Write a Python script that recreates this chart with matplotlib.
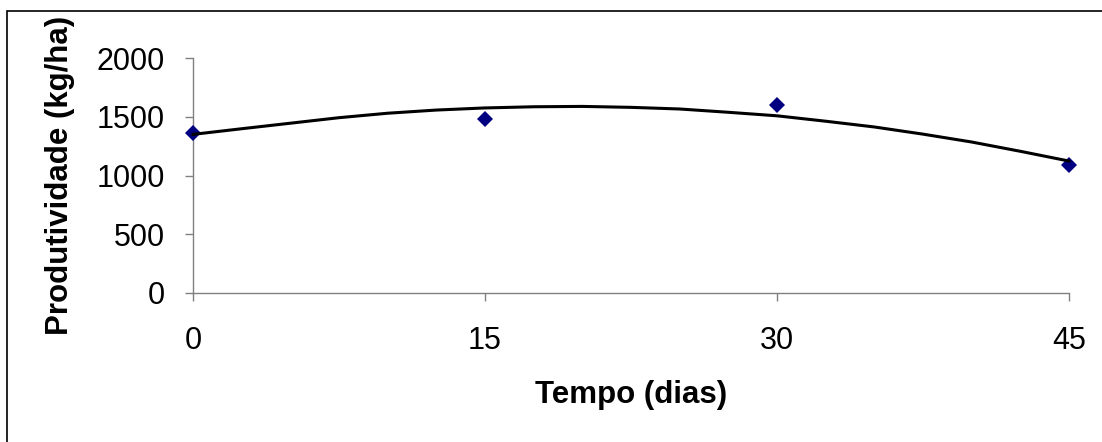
import matplotlib
matplotlib.use('Agg')
import matplotlib.pyplot as plt
from matplotlib.patches import Rectangle

# observed values
dias = [0, 15, 30, 45]
produtividade = [1364, 1481, 1600, 1089]

# trend line
tend_dias = [0, 2.5, 5, 7.5, 10, 12.5, 15, 17.5, 20, 22.5,
             25, 27.5, 30, 32.5, 35, 37.5, 40, 42.5, 45]
tend_valores = [1350, 1398, 1445, 1492, 1530, 1557, 1575, 1585, 1588, 1580,
                1566, 1538, 1508, 1462, 1413, 1352, 1285, 1206, 1123]

x_ticks = [0, 15, 30, 45]
y_ticks = [0, 500, 1000, 1500, 2000]

plt.rcParams['font.family'] = ['Liberation Sans', 'DejaVu Sans']

fig = plt.figure(figsize=(11.02, 4.42), dpi=100)
ax = fig.add_axes([193 / 1102, 1 - 293 / 442, 876 / 1102, 235 / 442])

ax.plot(dias, produtividade, linestyle='none', marker='D', markersize=8,
        color='#000080', markeredgewidth=0, zorder=3, clip_on=False)
ax.plot(tend_dias, tend_valores, color='black', linewidth=2.2, zorder=4,
        clip_on=False)

ax.set_xlim(0, 45)
ax.set_ylim(0, 2000)
ax.set_xticks(x_ticks)
ax.set_yticks(y_ticks)

for side in ['top', 'right']:
    ax.spines[side].set_visible(False)
for side in ['left', 'bottom']:
    ax.spines[side].set_color('#808080')
    ax.spines[side].set_linewidth(1)

ax.tick_params(axis='both', direction='out', length=6, width=1, color='#808080',
               labelsize=22)
ax.tick_params(axis='x', pad=18)
ax.tick_params(axis='y', pad=14)

ax.set_xlabel('Tempo (dias)', fontsize=22.5, fontweight='bold', labelpad=17)
ax.set_ylabel('Produtividade (kg/ha)', fontsize=22.5, fontweight='bold', labelpad=16)

# outer chart border (left and top visible)
fig.add_artist(Rectangle((7 / 1102, -0.1), 2, 1.1 - 11 / 442,
                         transform=fig.transFigure, fill=False,
                         edgecolor='black', linewidth=1.2))

fig.savefig('out.png', dpi=100)
